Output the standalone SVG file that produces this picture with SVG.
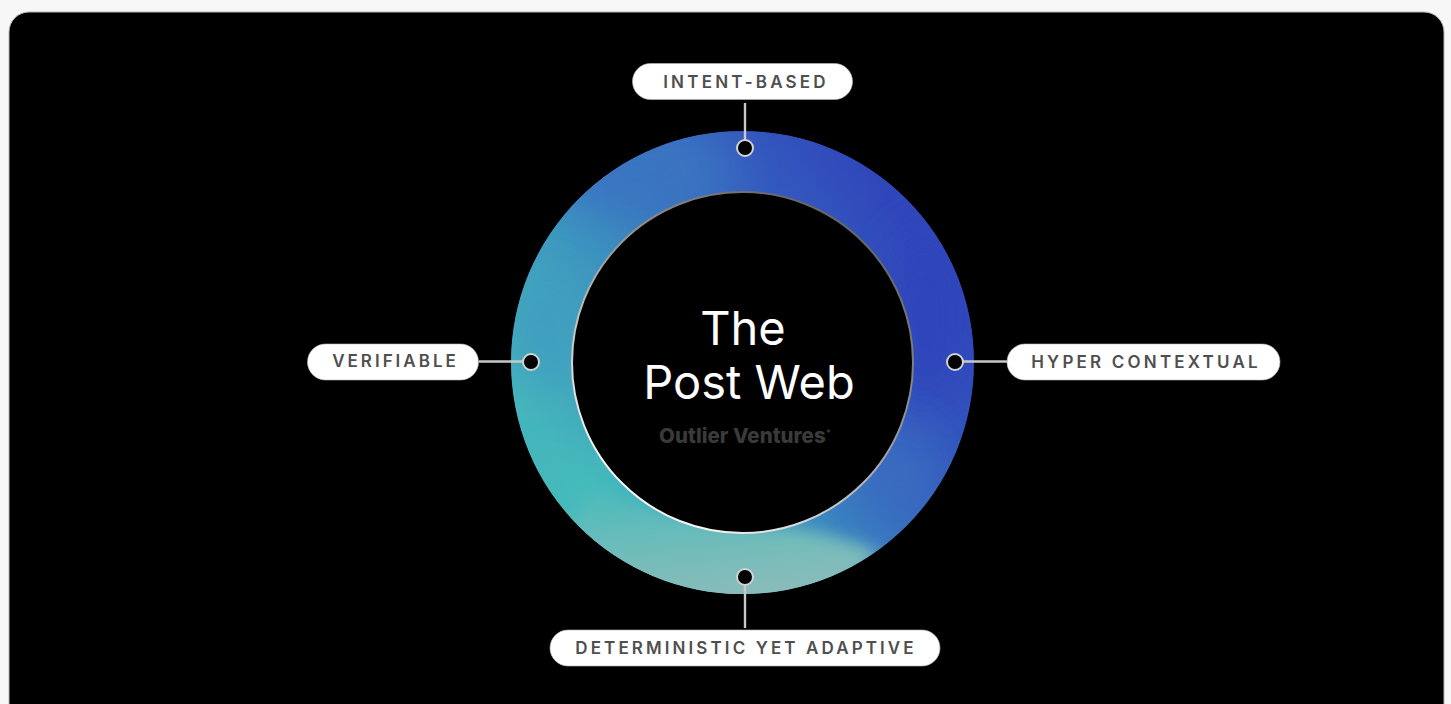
<svg xmlns="http://www.w3.org/2000/svg" width="1451" height="704" viewBox="0 0 1451 704">
<style>
.pill{fill:#fff;stroke:#bbb;stroke-width:.6}
.lab{font-family:"Inter","Liberation Sans",sans-serif;font-size:17px;font-weight:600;fill:#4f4f4f;text-anchor:middle}
.conn{stroke:#c8c8c8;stroke-width:2.400;fill:none}
.dot{fill:#000;stroke:#d2d2d2;stroke-width:2}
.title{font-family:"Inter","Liberation Sans",sans-serif;font-size:47px;font-weight:400;fill:#fff;text-anchor:middle}
</style>
<defs>
<linearGradient id="base" x1="0.95" y1="0.35" x2="0.2" y2="0.85">
<stop offset="0" stop-color="#3047bb"/><stop offset="0.3" stop-color="#3560bf"/><stop offset="0.62" stop-color="#3c8fc0"/><stop offset="1" stop-color="#45b6bc"/>
</linearGradient>
<linearGradient id="inner" x1="0.8" y1="0.1" x2="0.25" y2="0.9">
<stop offset="0" stop-color="#666"/><stop offset="0.45" stop-color="#999"/><stop offset="1" stop-color="#f4f4f4"/>
</linearGradient>
<linearGradient id="wash" x1="0.2" y1="0" x2="0.5" y2="1">
<stop offset="0" stop-color="#4dbcbb"/><stop offset="0.55" stop-color="#74bcba"/><stop offset="1" stop-color="#8fbcba"/>
</linearGradient>
<filter id="b1" x="-60%" y="-60%" width="220%" height="220%"><feGaussianBlur stdDeviation="24"/></filter>
<filter id="b2" x="-50%" y="-50%" width="200%" height="200%"><feGaussianBlur stdDeviation="8"/></filter>
<clipPath id="ringclip"><path clip-rule="evenodd" d="M511 362.500a231.500 231.500 0 1 0 463 0a231.500 231.500 0 1 0-463 0ZM572 362.500a170.500 170.500 0 1 0 341 0a170.500 170.500 0 1 0-341 0Z"/></clipPath>
</defs>
<rect width="1451" height="704" fill="#f7f7f7"/>
<rect id="panel" x="9" y="12" width="1435" height="720" rx="20" fill="#000" stroke="#b5b5b5" stroke-width="1"/>
<g id="ring">
<g clip-path="url(#ringclip)">
<circle cx="742.500" cy="362.500" r="232" fill="url(#base)"/>
<ellipse cx="925" cy="320" rx="38" ry="95" fill="#2f44bb" filter="url(#b1)"/>
<ellipse cx="640" cy="170" rx="95" ry="45" fill="#3b74c1" filter="url(#b1)"/>
<ellipse cx="545" cy="330" rx="30" ry="60" fill="#3f9cc0" filter="url(#b1)"/>
<ellipse cx="590" cy="485" rx="50" ry="30" fill="#45bcbb" filter="url(#b1)"/>
<ellipse cx="900" cy="475" rx="30" ry="45" fill="#3a6cc0" filter="url(#b1)"/>
<path d="M590 490Q700 525 790 527Q840 535 880 552L830 610L640 610L560 540Z" fill="url(#wash)" filter="url(#b2)"/>
</g>
<circle cx="742.500" cy="362.500" r="170.500" fill="#000" stroke="url(#inner)" stroke-width="2"/>
</g>
<g id="connectors">
<line class="conn" x1="745" y1="103" x2="745" y2="140"/>
<line class="conn" x1="745" y1="585" x2="745" y2="628"/>
<line class="conn" x1="479" y1="361.500" x2="523" y2="361.500"/>
<line class="conn" x1="963" y1="361.500" x2="1007" y2="361.500"/>
</g>
<g id="node-intent">
<circle class="dot" cx="745" cy="148" r="8"/>
<rect class="pill" x="632.500" y="63.500" width="220" height="36" rx="18"/>
<text class="lab" x="746" y="87.500" letter-spacing="3.200">INTENT-BASED</text>
</g>
<g id="node-hyper">
<circle class="dot" cx="955" cy="362" r="8"/>
<rect class="pill" x="1007" y="344" width="273" height="36" rx="18"/>
<text class="lab" x="1146" y="368" letter-spacing="3.200">HYPER CONTEXTUAL</text>
</g>
<g id="node-verifiable">
<circle class="dot" cx="531" cy="362" r="8"/>
<rect class="pill" x="307.500" y="344" width="171" height="36" rx="18"/>
<text class="lab" x="395.500" y="367" letter-spacing="3">VERIFIABLE</text>
</g>
<g id="node-deterministic">
<circle class="dot" cx="745" cy="577" r="8"/>
<rect class="pill" x="550" y="630" width="390" height="36" rx="18"/>
<text class="lab" x="746" y="654" letter-spacing="3.100">DETERMINISTIC YET ADAPTIVE</text>
</g>
<g id="title">
<text class="title" x="743" y="345">The</text>
<text class="title" x="749" y="399">Post Web</text>
<text x="745" y="443" font-family="Inter,'Liberation Sans',sans-serif" font-size="20.500" font-weight="800" fill="#3a3a3a" text-anchor="middle">Outlier Ventures<tspan font-size="9" dy="-7">*</tspan></text>
</g>
</svg>
